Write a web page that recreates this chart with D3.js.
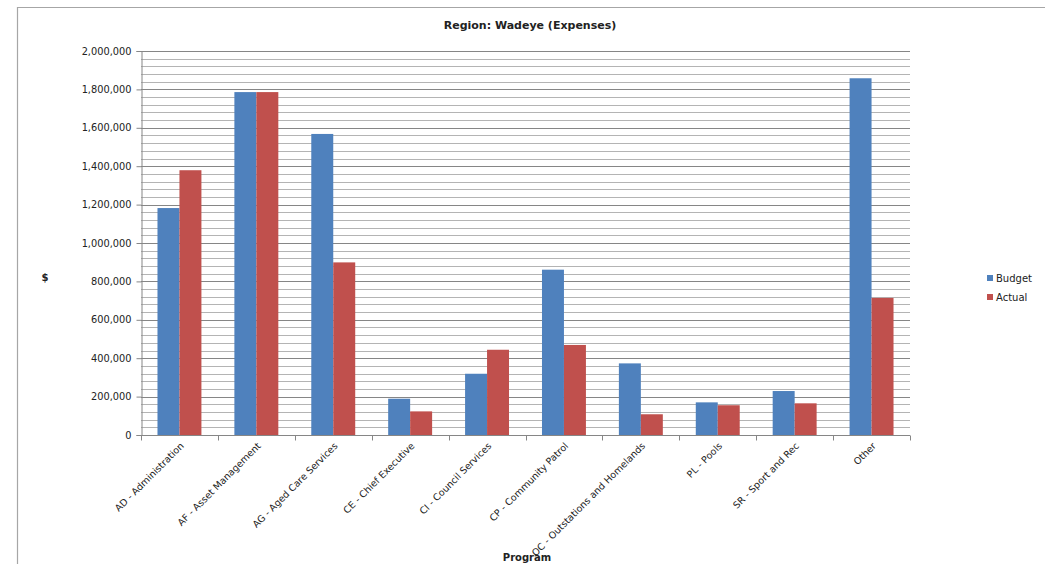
<!DOCTYPE html>
<html>
<head>
<meta charset="utf-8">
<script src="https://cdn.jsdelivr.net/npm/d3@7"></script>
<style>
  html, body { margin: 0; padding: 0; background: #fff; }
  svg { display: block; }
  text { font-family: "DejaVu Sans", sans-serif; fill: #222; }
</style>
</head>
<body>
<svg id="chart" width="1045" height="564"></svg>
<script>
const categories = [
  "AD - Administration",
  "AF - Asset Management",
  "AG - Aged Care Services",
  "CE - Chief Executive",
  "CI - Council Services",
  "CP - Community Patrol",
  "OC - Outstations and Homelands",
  "PL - Pools",
  "SR - Sport and Rec",
  "Other"
];
const seriesNames = ["Budget", "Actual"];
const budget = [1182000, 1786000, 1568000, 189000, 319000, 861000, 373000, 170000, 229000, 1858000];
const actual = [1379000, 1786000, 899000, 123000, 444000, 469000, 108000, 155000, 165000, 714000];
const yTicks = [0, 200000, 400000, 600000, 800000, 1000000, 1200000, 1400000, 1600000, 1800000, 2000000];
const colors = ["#4F81BD", "#C0504D"];

const svg = d3.select("#chart");
const mLeft = 141, mRight = 910, mTop = 51, mBottom = 435;

// chart border
svg.append("path")
  .attr("d", "M17.5,564 L17.5,7.5 L1045,7.5")
  .attr("fill", "none").attr("stroke", "#a6a6a6").attr("stroke-width", 1.2);

const y = d3.scaleLinear().domain([0, 2000000]).range([mBottom, mTop]);
const x0 = d3.scaleBand().domain(categories).range([mLeft, mRight]).padding(0);
const bw = x0.bandwidth();
const barW = bw / 3.5;
const x1 = d3.scaleBand().domain(seriesNames)
  .range([(bw - 2 * barW) / 2, (bw + 2 * barW) / 2]).padding(0);

// minor gridlines
const minor = d3.range(0, 2000001, 40000).filter(v => v % 200000 !== 0);
svg.append("g").selectAll("line").data(minor).join("line")
  .attr("x1", mLeft).attr("x2", mRight)
  .attr("y1", d => Math.round(y(d)) + 0.5).attr("y2", d => Math.round(y(d)) + 0.5)
  .attr("stroke", "#b4b4b4").attr("stroke-width", 1);
// major gridlines
svg.append("g").selectAll("line").data(yTicks.filter(v => v > 0)).join("line")
  .attr("x1", mLeft).attr("x2", mRight)
  .attr("y1", d => Math.round(y(d)) + 0.5).attr("y2", d => Math.round(y(d)) + 0.5)
  .attr("stroke", "#868686").attr("stroke-width", 1);

// bars
const data = categories.map((c, i) => ({ c, vals: [budget[i], actual[i]] }));
const groups = svg.append("g").selectAll("g").data(data).join("g")
  .attr("transform", d => `translate(${x0(d.c)},0)`);
groups.selectAll("rect").data(d => d.vals.map((v, j) => ({ s: seriesNames[j], v, j })))
  .join("rect")
  .attr("x", d => x1(d.s))
  .attr("width", x1.bandwidth())
  .attr("y", d => y(d.v))
  .attr("height", d => y(0) - y(d.v))
  .attr("fill", d => colors[d.j]);

// y axis
const yAxis = d3.axisLeft(y).tickValues(yTicks).tickSize(5).tickPadding(5)
  .tickFormat(d3.format(","));
const gy = svg.append("g").attr("transform", `translate(${mLeft + 0.5},0)`).call(yAxis);
gy.select(".domain").attr("stroke", "#868686");
gy.selectAll(".tick line").attr("stroke", "#868686");
gy.selectAll(".tick text").attr("font-size", "9.8px").attr("font-family", "DejaVu Sans, sans-serif").attr("fill", "#222");

// x axis
const gx = svg.append("g").attr("transform", `translate(0,${mBottom + 0.5})`);
gx.append("line").attr("x1", mLeft).attr("x2", mRight).attr("stroke", "#868686");
const boundaries = categories.map(c => x0(c)).concat([mRight]);
gx.selectAll("line.tk").data(boundaries).join("line").attr("class", "tk")
  .attr("x1", d => Math.round(d) + 0.5).attr("x2", d => Math.round(d) + 0.5)
  .attr("y1", 0).attr("y2", 5).attr("stroke", "#868686");
gx.selectAll("text").data(categories).join("text")
  .attr("transform", d => `translate(${x0(d) + bw / 2 + 5},${11}) rotate(-45)`)
  .attr("text-anchor", "end")
  .attr("font-size", "9.5px")
  .text(d => d);

// title
svg.append("text").attr("x", 530).attr("y", 29).attr("text-anchor", "middle")
  .attr("font-size", "11px").attr("font-weight", "bold").text("Region: Wadeye (Expenses)");
// y title
svg.append("text").attr("x", 45).attr("y", 281).attr("text-anchor", "middle")
  .attr("font-size", "10px").attr("font-weight", "bold").text("$");
// x title
svg.append("text").attr("x", 527).attr("y", 561).attr("text-anchor", "middle")
  .attr("font-size", "10px").attr("font-weight", "bold").text("Program");

// legend
const leg = svg.append("g").selectAll("g").data(seriesNames).join("g")
  .attr("transform", (d, i) => `translate(987,${275 + i * 19})`);
leg.append("rect").attr("width", 6).attr("height", 6).attr("fill", (d, i) => colors[i]);
leg.append("text").attr("x", 9).attr("y", 7).attr("font-size", "10px").text(d => d);
</script>
</body>
</html>
